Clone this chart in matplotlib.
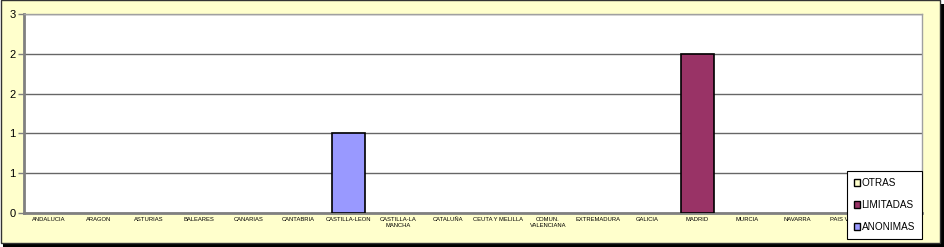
import numpy as np
import matplotlib.pyplot as plt
from matplotlib.patches import Rectangle, Patch

# data
regions = ['ANDALUCIA', 'ARAGON', 'ASTURIAS', 'BALEARES', 'CANARIAS', 'CANTABRIA',
           'CASTILLA-LEON', 'CASTILLA-LA\nMANCHA', 'CATALUÑA', 'CEUTA Y MELILLA',
           'COMUN.\nVALENCIANA', 'EXTREMADURA', 'GALICIA', 'MADRID', 'MURCIA',
           'NAVARRA', 'PAIS VASCO', 'RIOJA']
anonimas  = [0, 0, 0, 0, 0, 0, 1, 0, 0, 0, 0, 0, 0, 0, 0, 0, 0, 0]
limitadas = [0, 0, 0, 0, 0, 0, 0, 0, 0, 0, 0, 0, 0, 2, 0, 0, 0, 0]
otras     = [0, 0, 0, 0, 0, 0, 0, 0, 0, 0, 0, 0, 0, 0, 0, 0, 0, 0]
y_ticks = [0, 0.5, 1, 1.5, 2, 2.5]
y_labels = ['0', '1', '1', '2', '2', '3']

plt.rcParams['font.family'] = ['Liberation Sans', 'DejaVu Sans']

W, H = 944, 247
fig = plt.figure(figsize=(W / 100, H / 100), dpi=100)
fig.patch.set_facecolor('white')

# chart frame with shadow
fig.patches.append(Rectangle((3 / W, 0), (W - 3) / W, (H - 4) / H, transform=fig.transFigure,
                             facecolor='black', edgecolor='none', zorder=0))
fig.patches.append(Rectangle((0.5 / W, 4 / H), (W - 4.5) / W, (H - 4.5) / H, transform=fig.transFigure,
                             facecolor='#FFFFCC', edgecolor='#333333', linewidth=1, zorder=1))

ax = fig.add_axes([24 / W, (H - 213) / H, 898 / W, 199 / H])
ax.set_zorder(5)
ax.set_facecolor('white')

x = np.arange(len(regions))
bw = 0.67
series = [(anonimas, '#9999FF', 'ANONIMAS'),
          (limitadas, '#993366', 'LIMITADAS'),
          (otras, '#FFFFCC', 'OTRAS')]
bottom = np.zeros(len(regions))
for vals, col, name in series:
    v = np.array(vals, dtype=float)
    keep = v > 0  # Excel draws nothing for empty cells
    ax.bar(x[keep], v[keep], bw, bottom=bottom[keep], color=col, edgecolor='black',
           linewidth=1.2, label=name, zorder=3)
    bottom += v

ax.set_xlim(-0.5, len(regions) - 0.5)
ax.set_ylim(0, 2.5)
ax.set_yticks(y_ticks)
ax.set_yticklabels(y_labels, fontsize=8)
ax.set_xticks(x)
ax.set_xticklabels(regions, fontsize=4.2, linespacing=1.1)
ax.tick_params(axis='x', length=0, pad=3)
ax.tick_params(axis='y', length=4, width=1, color='#808080', pad=2)
ax.yaxis.grid(True, color='#666666', linewidth=1)
ax.set_axisbelow(True)

for s in ['left', 'bottom']:
    ax.spines[s].set_color('#808080')
    ax.spines[s].set_linewidth(2)
for s in ['top', 'right']:
    ax.spines[s].set_color('#A0A0A0')
    ax.spines[s].set_linewidth(1)

handles = [Patch(facecolor='#FFFFCC', edgecolor='black', label='OTRAS'),
           Patch(facecolor='#993366', edgecolor='black', label='LIMITADAS'),
           Patch(facecolor='#9999FF', edgecolor='black', label='ANONIMAS')]
leg = fig.legend(handles=handles, loc='lower right', bbox_to_anchor=(922 / W, 8 / H),
                 fontsize=7.2, handlelength=0.6, handleheight=0.6, handletextpad=0.2,
                 labelspacing=1.2, borderpad=0.7, frameon=True, fancybox=False,
                 edgecolor='black', framealpha=1, borderaxespad=0)
leg.get_frame().set_linewidth(0.8)
leg.set_zorder(10)

fig.savefig('out.png', dpi=100, facecolor=fig.get_facecolor())
